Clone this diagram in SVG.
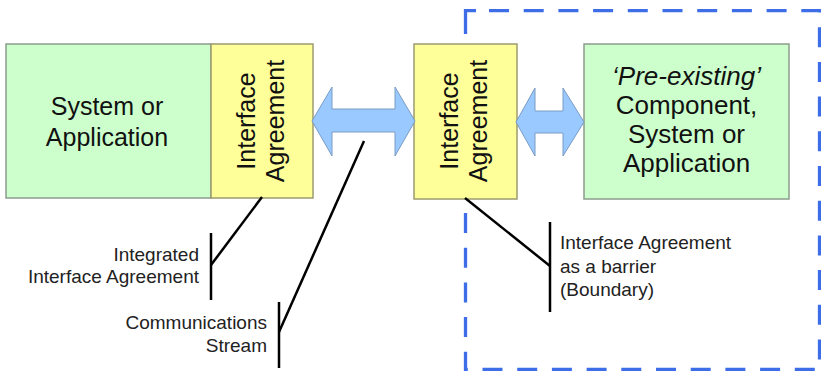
<svg xmlns="http://www.w3.org/2000/svg" width="821" height="371" viewBox="0 0 821 371">
<style>
.sys{fill:#ccffcc;stroke:#8c9c8c;stroke-width:1.5}
.ia{fill:#ffff99;stroke:#9c9c70;stroke-width:1.5}
.arr{fill:#99c9ff;stroke:#7a9cc4;stroke-width:1}
.big{font-family:"Liberation Sans",Arial,sans-serif;font-size:25px;fill:#111;text-anchor:middle}
.big2{font-family:"Liberation Sans",Arial,sans-serif;font-size:26px;fill:#111;text-anchor:middle}
.lbl{font-family:"Liberation Sans",Arial,sans-serif;font-size:19px;fill:#222}
.ln{stroke:#000;stroke-width:2.5;fill:none}
.bnd{fill:none;stroke:#3d6ee8;stroke-width:3.3}
.dash{stroke-dasharray:20 14.7}
</style>
<rect width="821" height="371" fill="#ffffff"/>
<g id="boundary">
<path class="bnd" d="M465.5,34 V10.7 H476"/>
<path class="bnd dash" d="M489,10.7 H819.5 V369.5 H465.5 V46"/>
</g>
<g id="system-left">
<rect class="sys" x="6" y="44" width="205" height="154"/>
<text class="big" x="107" y="115">System or</text>
<text class="big" x="107" y="146">Application</text>
</g>
<g id="ia-left">
<rect class="ia" x="211" y="44" width="102" height="154"/>
<text class="big" transform="translate(255,121) rotate(-90)">Interface</text>
<text class="big" transform="translate(284,121) rotate(-90)">Agreement</text>
</g>
<g id="ia-right">
<rect class="ia" x="414" y="44" width="103" height="155"/>
<text class="big" transform="translate(458,121) rotate(-90)">Interface</text>
<text class="big" transform="translate(487,121) rotate(-90)">Agreement</text>
</g>
<g id="system-right">
<rect class="sys" x="584" y="44" width="205" height="155"/>
<text class="big2" x="686.5" y="85" font-style="italic">‘Pre-existing’</text>
<text class="big2" x="686.5" y="114">Component,</text>
<text class="big2" x="686.5" y="143">System or</text>
<text class="big2" x="686.5" y="172">Application</text>
</g>
<g id="connectors">
<path class="arr" d="M312,121 L332,87 L332,109 L395,109 L395,87 L415,121 L395,156 L395,132 L332,132 L332,156 Z"/>
<path class="arr" d="M516,122 L535,88 L535,111 L563,111 L563,88 L584,122 L563,156 L563,133 L535,133 L535,156 Z"/>
<path class="ln" d="M262,197 L211,265"/>
<path class="ln" d="M211,233 V300"/>
<path class="ln" d="M364,141 L279,332"/>
<path class="ln" d="M279,302 V368"/>
<path class="ln" d="M465,198 L550,266"/>
<path class="ln" d="M550,222 V312"/>
</g>
<g id="labels">
<text class="lbl" x="199" y="261" text-anchor="end">Integrated</text>
<text class="lbl" x="199" y="283" text-anchor="end">Interface Agreement</text>
<text class="lbl" x="267" y="329" text-anchor="end">Communications</text>
<text class="lbl" x="267" y="352" text-anchor="end">Stream</text>
<text class="lbl" x="560" y="249">Interface Agreement</text>
<text class="lbl" x="560" y="273">as a barrier</text>
<text class="lbl" x="560" y="296">(Boundary)</text>
</g>
</svg>
